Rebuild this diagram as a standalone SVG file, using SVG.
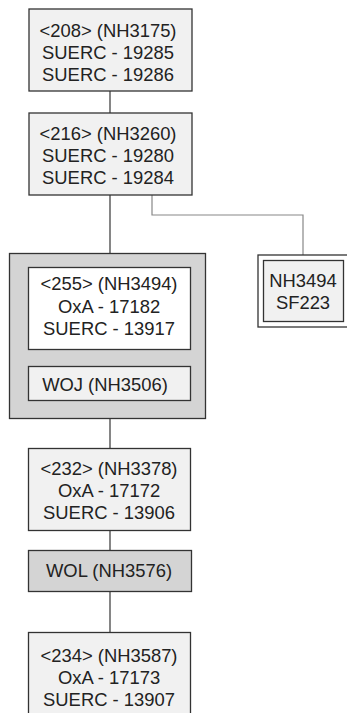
<svg xmlns="http://www.w3.org/2000/svg" width="347" height="713" viewBox="0 0 347 713">
<style>
text{font-family:"Liberation Sans",Arial,sans-serif;font-size:18.4px;fill:#222;text-anchor:middle}
.box{fill:#f1f1f1;stroke:#333;stroke-width:1.3}
.white{fill:#fff;stroke:#333;stroke-width:1.3}
.grey{fill:#d4d4d4;stroke:#333;stroke-width:1.3}
.con{stroke:#444;stroke-width:1.3;fill:none}
.con2{stroke:#888;stroke-width:1.2;fill:none}
</style>
<rect width="347" height="713" fill="#fff"/>
<g id="connectors">
<line class="con" x1="110" y1="91" x2="110" y2="113"/>
<line class="con" x1="110" y1="195" x2="110" y2="253"/>
<polyline class="con2" points="152,195 152,215 303,215 303,256"/>
<line class="con" x1="110" y1="419" x2="110" y2="448"/>
<line class="con" x1="110" y1="531" x2="110" y2="550"/>
<line class="con" x1="110" y1="592" x2="110" y2="632"/>
</g>
<g id="n208">
<rect class="box" x="29" y="9" width="163" height="82"/>
<text x="108" y="37">&lt;208&gt; (NH3175)</text>
<text x="108" y="59">SUERC - 19285</text>
<text x="108" y="81">SUERC - 19286</text>
</g>
<g id="n216">
<rect class="box" x="29" y="113" width="163" height="82"/>
<text x="108" y="140">&lt;216&gt; (NH3260)</text>
<text x="108" y="162">SUERC - 19280</text>
<text x="108" y="184">SUERC - 19284</text>
</g>
<g id="sf223">
<rect class="white" x="258" y="255" width="90" height="72"/>
<rect class="box" x="263.5" y="260.5" width="80" height="61"/>
<text x="303" y="287">NH3494</text>
<text x="303" y="309">SF223</text>
</g>
<g id="group255">
<rect class="grey" x="9.5" y="253.5" width="196" height="165"/>
</g>
<g id="n255">
<rect class="white" x="28.5" y="267.5" width="162" height="82"/>
<text x="109" y="290">&lt;255&gt; (NH3494)</text>
<text x="109" y="313">OxA - 17182</text>
<text x="109" y="335">SUERC - 13917</text>
</g>
<g id="woj">
<rect class="box" x="28.5" y="366.5" width="162" height="34"/>
<text x="105" y="391">WOJ (NH3506)</text>
</g>
<g id="n232">
<rect class="box" x="28.5" y="448.5" width="162" height="82"/>
<text x="109" y="475">&lt;232&gt; (NH3378)</text>
<text x="109" y="497">OxA - 17172</text>
<text x="109" y="519">SUERC - 13906</text>
</g>
<g id="wol">
<rect class="grey" x="28.5" y="550.5" width="163" height="41"/>
<text x="109" y="577">WOL (NH3576)</text>
</g>
<g id="n234">
<rect class="box" x="28.5" y="632.5" width="162" height="90"/>
<text x="109" y="662">&lt;234&gt; (NH3587)</text>
<text x="109" y="684">OxA - 17173</text>
<text x="109" y="706">SUERC - 13907</text>
</g>
</svg>
